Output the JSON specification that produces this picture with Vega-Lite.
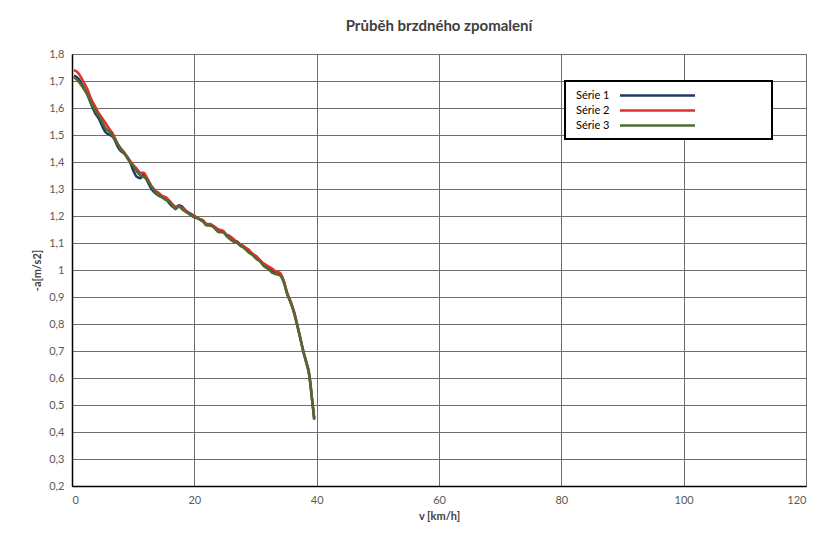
{
  "$schema": "https://vega.github.io/schema/vega-lite/v6.json",
  "width": 734,
  "height": 432,
  "autosize": {"type": "none"},
  "padding": {"left": 72, "top": 54, "right": 21, "bottom": 49},
  "background": "white",
  "title": {"text": "Průběh brzdného zpomalení", "fontSize": 15, "font": "Lato", "fontWeight": "bold", "color": "#404040", "offset": 14, "anchor": "middle"},
  "data": {"values": [
    {"s":"Série 1","v":0.3,"a":1.72},{"s":"Série 1","v":1.0,"a":1.71},{"s":"Série 1","v":1.8,"a":1.68},{"s":"Série 1","v":2.5,"a":1.65},{"s":"Série 1","v":3.2,"a":1.61},{"s":"Série 1","v":3.8,"a":1.58},{"s":"Série 1","v":4.4,"a":1.56},{"s":"Série 1","v":5.0,"a":1.53},{"s":"Série 1","v":5.5,"a":1.51},{"s":"Série 1","v":6.2,"a":1.5},{"s":"Série 1","v":6.8,"a":1.49},{"s":"Série 1","v":7.4,"a":1.46},{"s":"Série 1","v":8.0,"a":1.44},{"s":"Série 1","v":8.6,"a":1.43},{"s":"Série 1","v":9.3,"a":1.41},{"s":"Série 1","v":10.0,"a":1.37},{"s":"Série 1","v":10.6,"a":1.345},{"s":"Série 1","v":11.2,"a":1.34},{"s":"Série 1","v":11.7,"a":1.355},{"s":"Série 1","v":12.3,"a":1.33},{"s":"Série 1","v":13.0,"a":1.3},{"s":"Série 1","v":13.6,"a":1.285},{"s":"Série 1","v":14.2,"a":1.275},{"s":"Série 1","v":14.7,"a":1.27},{"s":"Série 1","v":15.3,"a":1.265},{"s":"Série 1","v":15.8,"a":1.25},{"s":"Série 1","v":16.4,"a":1.235},{"s":"Série 1","v":16.9,"a":1.23},{"s":"Série 1","v":17.5,"a":1.24},{"s":"Série 1","v":18.0,"a":1.235},{"s":"Série 1","v":18.6,"a":1.22},{"s":"Série 1","v":19.3,"a":1.21},{"s":"Série 1","v":20.0,"a":1.2},{"s":"Série 1","v":20.7,"a":1.19},{"s":"Série 1","v":21.4,"a":1.18},{"s":"Série 1","v":22.0,"a":1.17},{"s":"Série 1","v":22.6,"a":1.165},{"s":"Série 1","v":23.3,"a":1.16},{"s":"Série 1","v":24.0,"a":1.145},{"s":"Série 1","v":24.7,"a":1.14},{"s":"Série 1","v":25.3,"a":1.13},{"s":"Série 1","v":25.8,"a":1.125},{"s":"Série 1","v":26.4,"a":1.11},{"s":"Série 1","v":27.0,"a":1.105},{"s":"Série 1","v":27.5,"a":1.095},{"s":"Série 1","v":28.2,"a":1.085},{"s":"Série 1","v":28.9,"a":1.07},{"s":"Série 1","v":29.5,"a":1.06},{"s":"Série 1","v":30.2,"a":1.045},{"s":"Série 1","v":30.8,"a":1.035},{"s":"Série 1","v":31.3,"a":1.02},{"s":"Série 1","v":32.0,"a":1.01},{"s":"Série 1","v":32.7,"a":0.995},{"s":"Série 1","v":33.3,"a":0.99},{"s":"Série 1","v":34.0,"a":0.985},{"s":"Série 1","v":34.6,"a":0.96},{"s":"Série 1","v":35.2,"a":0.91},{"s":"Série 1","v":35.7,"a":0.885},{"s":"Série 1","v":36.3,"a":0.845},{"s":"Série 1","v":36.8,"a":0.8},{"s":"Série 1","v":37.3,"a":0.75},{"s":"Série 1","v":37.8,"a":0.7},{"s":"Série 1","v":38.3,"a":0.66},{"s":"Série 1","v":38.7,"a":0.625},{"s":"Série 1","v":39.0,"a":0.575},{"s":"Série 1","v":39.2,"a":0.53},{"s":"Série 1","v":39.4,"a":0.49},{"s":"Série 1","v":39.6,"a":0.45},
    {"s":"Série 2","v":0.3,"a":1.74},{"s":"Série 2","v":1.0,"a":1.73},{"s":"Série 2","v":1.8,"a":1.7},{"s":"Série 2","v":2.5,"a":1.67},{"s":"Série 2","v":3.2,"a":1.63},{"s":"Série 2","v":3.8,"a":1.605},{"s":"Série 2","v":4.4,"a":1.58},{"s":"Série 2","v":5.0,"a":1.56},{"s":"Série 2","v":5.6,"a":1.54},{"s":"Série 2","v":6.2,"a":1.52},{"s":"Série 2","v":6.8,"a":1.5},{"s":"Série 2","v":7.4,"a":1.47},{"s":"Série 2","v":8.0,"a":1.45},{"s":"Série 2","v":8.4,"a":1.44},{"s":"Série 2","v":9.3,"a":1.41},{"s":"Série 2","v":10.0,"a":1.39},{"s":"Série 2","v":10.6,"a":1.375},{"s":"Série 2","v":11.2,"a":1.36},{"s":"Série 2","v":11.7,"a":1.36},{"s":"Série 2","v":12.3,"a":1.34},{"s":"Série 2","v":13.0,"a":1.31},{"s":"Série 2","v":13.6,"a":1.295},{"s":"Série 2","v":14.2,"a":1.285},{"s":"Série 2","v":14.7,"a":1.275},{"s":"Série 2","v":15.3,"a":1.27},{"s":"Série 2","v":15.8,"a":1.26},{"s":"Série 2","v":16.4,"a":1.245},{"s":"Série 2","v":16.9,"a":1.235},{"s":"Série 2","v":17.5,"a":1.235},{"s":"Série 2","v":18.0,"a":1.23},{"s":"Série 2","v":18.6,"a":1.22},{"s":"Série 2","v":19.3,"a":1.205},{"s":"Série 2","v":20.0,"a":1.2},{"s":"Série 2","v":20.7,"a":1.19},{"s":"Série 2","v":21.4,"a":1.185},{"s":"Série 2","v":22.0,"a":1.17},{"s":"Série 2","v":22.6,"a":1.17},{"s":"Série 2","v":23.3,"a":1.16},{"s":"Série 2","v":24.0,"a":1.15},{"s":"Série 2","v":24.7,"a":1.145},{"s":"Série 2","v":25.3,"a":1.13},{"s":"Série 2","v":25.8,"a":1.125},{"s":"Série 2","v":26.4,"a":1.115},{"s":"Série 2","v":27.0,"a":1.1},{"s":"Série 2","v":27.5,"a":1.095},{"s":"Série 2","v":28.2,"a":1.085},{"s":"Série 2","v":28.9,"a":1.075},{"s":"Série 2","v":29.5,"a":1.06},{"s":"Série 2","v":30.2,"a":1.05},{"s":"Série 2","v":30.8,"a":1.035},{"s":"Série 2","v":31.3,"a":1.025},{"s":"Série 2","v":32.0,"a":1.015},{"s":"Série 2","v":32.7,"a":1.005},{"s":"Série 2","v":33.3,"a":0.995},{"s":"Série 2","v":34.0,"a":0.99},{"s":"Série 2","v":34.6,"a":0.96},{"s":"Série 2","v":35.2,"a":0.915},{"s":"Série 2","v":35.7,"a":0.885},{"s":"Série 2","v":36.3,"a":0.845},{"s":"Série 2","v":36.8,"a":0.8},{"s":"Série 2","v":37.3,"a":0.75},{"s":"Série 2","v":37.8,"a":0.7},{"s":"Série 2","v":38.3,"a":0.66},{"s":"Série 2","v":38.7,"a":0.625},{"s":"Série 2","v":39.0,"a":0.575},{"s":"Série 2","v":39.2,"a":0.53},{"s":"Série 2","v":39.4,"a":0.49},{"s":"Série 2","v":39.6,"a":0.45},
    {"s":"Série 3","v":0.3,"a":1.715},{"s":"Série 3","v":1.0,"a":1.7},{"s":"Série 3","v":1.8,"a":1.675},{"s":"Série 3","v":2.5,"a":1.65},{"s":"Série 3","v":3.2,"a":1.615},{"s":"Série 3","v":3.8,"a":1.59},{"s":"Série 3","v":4.4,"a":1.57},{"s":"Série 3","v":5.0,"a":1.545},{"s":"Série 3","v":5.5,"a":1.525},{"s":"Série 3","v":6.2,"a":1.51},{"s":"Série 3","v":6.8,"a":1.49},{"s":"Série 3","v":7.4,"a":1.47},{"s":"Série 3","v":8.0,"a":1.445},{"s":"Série 3","v":8.6,"a":1.43},{"s":"Série 3","v":9.3,"a":1.405},{"s":"Série 3","v":10.0,"a":1.385},{"s":"Série 3","v":10.6,"a":1.365},{"s":"Série 3","v":11.2,"a":1.35},{"s":"Série 3","v":11.7,"a":1.345},{"s":"Série 3","v":12.3,"a":1.335},{"s":"Série 3","v":13.0,"a":1.31},{"s":"Série 3","v":13.6,"a":1.29},{"s":"Série 3","v":14.2,"a":1.275},{"s":"Série 3","v":14.7,"a":1.27},{"s":"Série 3","v":15.3,"a":1.26},{"s":"Série 3","v":15.8,"a":1.255},{"s":"Série 3","v":16.4,"a":1.24},{"s":"Série 3","v":16.9,"a":1.225},{"s":"Série 3","v":17.5,"a":1.235},{"s":"Série 3","v":18.0,"a":1.225},{"s":"Série 3","v":18.6,"a":1.215},{"s":"Série 3","v":19.3,"a":1.205},{"s":"Série 3","v":20.0,"a":1.195},{"s":"Série 3","v":20.7,"a":1.19},{"s":"Série 3","v":21.4,"a":1.18},{"s":"Série 3","v":22.0,"a":1.165},{"s":"Série 3","v":22.6,"a":1.165},{"s":"Série 3","v":23.3,"a":1.155},{"s":"Série 3","v":24.0,"a":1.14},{"s":"Série 3","v":24.7,"a":1.14},{"s":"Série 3","v":25.3,"a":1.125},{"s":"Série 3","v":25.8,"a":1.115},{"s":"Série 3","v":26.4,"a":1.105},{"s":"Série 3","v":27.0,"a":1.1},{"s":"Série 3","v":27.5,"a":1.09},{"s":"Série 3","v":28.2,"a":1.08},{"s":"Série 3","v":28.9,"a":1.065},{"s":"Série 3","v":29.5,"a":1.055},{"s":"Série 3","v":30.2,"a":1.04},{"s":"Série 3","v":30.8,"a":1.03},{"s":"Série 3","v":31.3,"a":1.015},{"s":"Série 3","v":32.0,"a":1.005},{"s":"Série 3","v":32.7,"a":0.99},{"s":"Série 3","v":33.3,"a":0.985},{"s":"Série 3","v":34.0,"a":0.98},{"s":"Série 3","v":34.6,"a":0.955},{"s":"Série 3","v":35.2,"a":0.91},{"s":"Série 3","v":35.7,"a":0.88},{"s":"Série 3","v":36.3,"a":0.84},{"s":"Série 3","v":36.8,"a":0.795},{"s":"Série 3","v":37.3,"a":0.75},{"s":"Série 3","v":37.8,"a":0.7},{"s":"Série 3","v":38.3,"a":0.655},{"s":"Série 3","v":38.7,"a":0.62},{"s":"Série 3","v":39.0,"a":0.57},{"s":"Série 3","v":39.2,"a":0.53},{"s":"Série 3","v":39.4,"a":0.49},{"s":"Série 3","v":39.6,"a":0.445}
  ]},
  "mark": {"type": "line", "strokeWidth": 2.5, "interpolate": "monotone"},
  "encoding": {
    "x": {"field": "v", "type": "quantitative", "scale": {"domain": [0, 120], "nice": false},
      "axis": {"title": "v [km/h]", "values": [0, 20, 40, 60, 80, 100, 120], "labelPadding": 8, "titlePadding": 5}},
    "y": {"field": "a", "type": "quantitative", "scale": {"domain": [0.2, 1.8], "nice": false, "zero": false},
      "axis": {"title": "-a[m/s2]", "values": [0.2, 0.3, 0.4, 0.5, 0.6, 0.7, 0.8, 0.9, 1.0, 1.1, 1.2, 1.3, 1.4, 1.5, 1.6, 1.7, 1.8],
        "labelExpr": "replace(format(datum.value, '.1~f'), '.', ',')", "labelPadding": 8, "titlePadding": 6}},
    "color": {"field": "s", "type": "nominal",
      "scale": {"domain": ["Série 1", "Série 2", "Série 3"], "range": ["#1f3864", "#e0302a", "#4e6b33"]},
      "legend": {"title": null, "orient": "none", "legendX": 493, "legendY": 27,
        "symbolType": "M-7.5,0H7.5M20.3,0", "symbolSize": 100, "symbolStrokeWidth": 2.5, "symbolOffset": 78, "labelOffset": -88,
        "labelFont": "Lato", "labelFontSize": 11, "labelColor": "black", "strokeColor": "black", "fillColor": "white", "padding": 8, "rowPadding": 3}}
  },
  "config": {
    "view": {"stroke": "#666666"},
    "legend": {"strokeWidth": 2},
    "axis": {"labelFont": "Lato", "labelFontSize": 11, "labelColor": "#595959", "titleFont": "Lato", "titleFontSize": 11, "titleColor": "#404040", "titleFontWeight": "bold",
      "grid": true, "gridColor": "#6e6e6e", "gridOpacity": 1, "ticks": false, "domainColor": "black", "domainWidth": 1.5}
  }
}
